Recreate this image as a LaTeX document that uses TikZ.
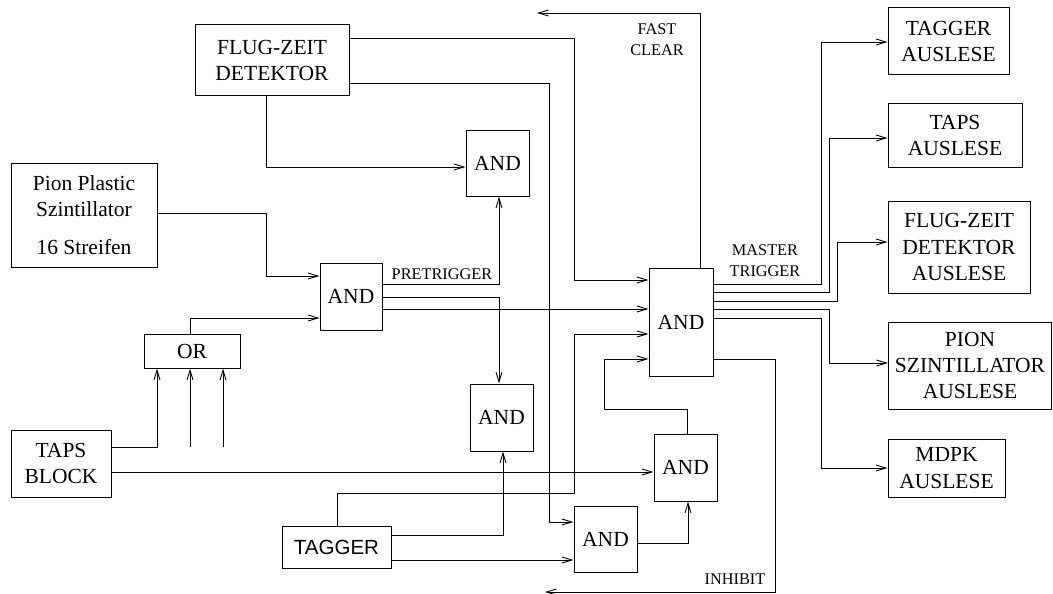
\documentclass[tikz,border=0pt]{standalone}
\usepackage{fontspec}
\setmainfont{Liberation Serif}
\newfontfamily\sansf{Liberation Sans}
\usetikzlibrary{arrows.meta}
\begin{document}
\begin{tikzpicture}[x=1pt,y=-1pt,
  line width=0.9pt,
  box/.style={draw, line width=1pt, inner sep=0pt, align=center,
    font=\fontsize{21.5}{26.3}\selectfont},
  lbl/.style={inner sep=0pt, align=center, font=\fontsize{16.3}{20.6}\selectfont},
  arr/.style={-{Straight Barb[length=10pt,width=6pt]}}]
\useasboundingbox (0,0) rectangle (1053,594);
% boxes
\node[box, minimum width=154, minimum height=71] (FZ) at (272,60.5) {FLUG-ZEIT\\DETEKTOR};
\node[box, minimum width=63, minimum height=66] (A1) at (497.5,163) {AND};
\node[box, minimum width=146, minimum height=104] (P) at (84,215) {Pion Plastic\\Szintillator\\[11pt]16 Streifen};
\node[box, minimum width=62, minimum height=67] (A2) at (351,296.5) {AND};
\node[box, minimum width=96, minimum height=34] (OR) at (192,351) {OR};
\node[box, minimum width=100, minimum height=67] (TB) at (61,463.5) {TAPS\\BLOCK};
\node[box, minimum width=63, minimum height=67] (A3) at (501.5,417.5) {AND};
\node[box, minimum width=64, minimum height=108] (M) at (681,322) {AND};
\node[box, minimum width=63, minimum height=67] (A4) at (685.5,467.5) {AND};
\node[box, minimum width=63, minimum height=66] (A5) at (605.5,539) {AND};
\node[box, minimum width=109, minimum height=42, font=\sansf\fontsize{20.5}{24}\selectfont] (T) at (336.5,547) {TAGGER};
\node[box, minimum width=121, minimum height=67] (TA) at (948.5,41.5) {TAGGER\\AUSLESE};
\node[box, minimum width=134, minimum height=63] (TPA) at (955,135.5) {TAPS\\AUSLESE};
\node[box, minimum width=142, minimum height=92] (FZA) at (959,247) {FLUG-ZEIT\\DETEKTOR\\AUSLESE};
\node[box, minimum width=163, minimum height=87] (PA) at (970,365.5) {PION\\SZINTILLATOR\\AUSLESE};
\node[box, minimum width=117, minimum height=58] (MD) at (946.5,468) {MDPK\\AUSLESE};
% labels
\node[lbl] (lpre) at (442,274) {PRETRIGGER};
\node[lbl] (lmt) at (765,260.5) {MASTER\\TRIGGER};
\node[lbl] (lfc) at (657,39.5) {FAST\\CLEAR};
\node[lbl] (linh) at (735,579) {INHIBIT};
% free ends
\coordinate (f1) at (190,447);
\coordinate (f2) at (223,447);
\coordinate (fc) at (537,13);
\coordinate (inh) at (545,592);
% connectors
\draw[arr] (FZ.east |- 0,38) -| (574,280) -- (M.west |- 0,280);
\draw[arr] (FZ.east |- 0,83) -| (549,522) -- (A5.west |- 0,522);
\draw[arr] (266,0 |- FZ.south) |- (A1.west |- 0,167);
\draw[arr] (P.east |- 0,213) -| (266,276) -- (A2.west |- 0,276);
\draw[arr] (190,0 |- OR.north) |- (A2.west |- 0,318);
\draw[arr] (TB.east |- 0,447) -| (OR.south -| 157,0);
\draw[arr] (f1) -- (f1 |- OR.south);
\draw[arr] (f2) -- (f2 |- OR.south);
\draw[arr] (TB.east |- 0,472) -- (A4.west |- 0,472);
\draw[arr] (A2.east |- 0,284) -| (A1.south -| 499,0);
\draw[arr] (A2.east |- 0,297) -| (A3.north -| 499,0);
\draw[arr] (A2.east |- 0,309) -- (M.west |- 0,309);
\draw[arr] (337,0 |- T.north) |- (574,493) |- (M.west |- 0,334);
\draw[arr] (687,0 |- A4.north) |- (604,409) |- (M.west |- 0,359);
\draw[arr] (T.east |- 0,535) -| (A3.south -| 503,0);
\draw[arr] (T.east |- 0,560) -- (A5.west |- 0,560);
\draw[arr] (A5.east |- 0,543) -| (A4.south -| 688,0);
\draw[arr] (700,0 |- M.north) |- (fc);
\draw[arr] (M.east |- 0,359) -| (775,592) -- (inh);
\draw[arr] (M.east |- 0,284) -| (821,42) -- (TA.west |- 0,42);
\draw[arr] (M.east |- 0,292) -| (829,138) -- (TPA.west |- 0,138);
\draw[arr] (M.east |- 0,301) -| (837,242) -- (FZA.west |- 0,242);
\draw[arr] (M.east |- 0,309) -| (829,363) -- (PA.west |- 0,363);
\draw[arr] (M.east |- 0,318) -| (821,468) -- (MD.west |- 0,468);
\end{tikzpicture}
\end{document}
